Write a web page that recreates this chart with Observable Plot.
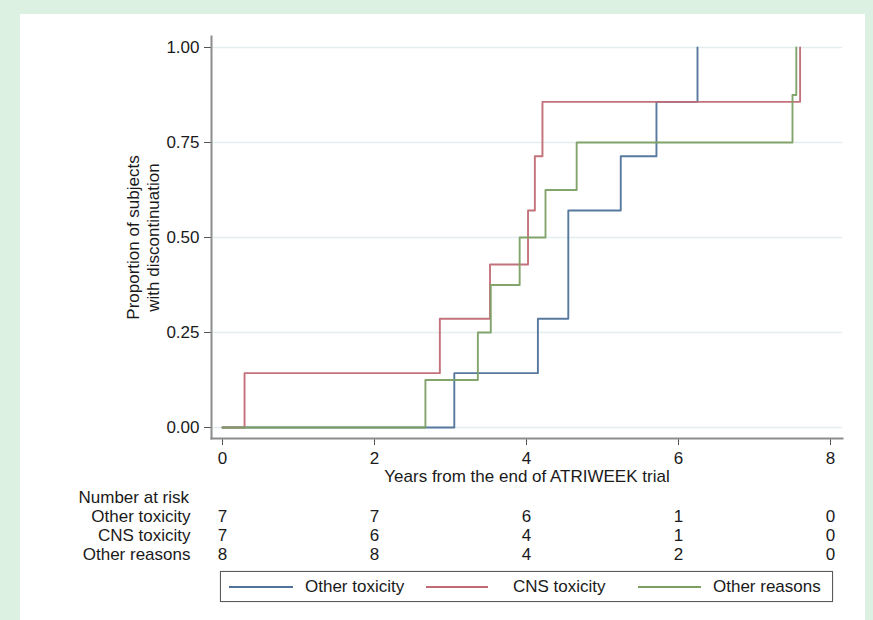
<!DOCTYPE html>
<html>
<head>
<meta charset="utf-8">
<script src="https://cdn.jsdelivr.net/npm/d3@7"></script>
<script src="https://cdn.jsdelivr.net/npm/@observablehq/plot@0.6"></script>
<style>
  html, body { margin: 0; padding: 0; background: #dcf1e2; width: 873px; height: 620px; overflow: hidden;
    font-family: "Liberation Sans", Arial, sans-serif; }
  #panel { position: absolute; left: 20px; top: 14px; width: 845px; height: 606px; background: #fff; }
  #chart { position: absolute; left: 0; top: 0; }
  #legend { position: absolute; left: 200px; top: 557px; width: 613px; height: 31px; box-sizing: border-box;
    border: 1.5px solid #5a5a5a; box-shadow: 0 0 1px #aaa; font-size: 17px; color: #1a1a1a; }
  .sw { position: absolute; top: 14px; height: 0; border-top: 2px solid; }
  .lt { position: absolute; top: 5px; line-height: 19px; white-space: nowrap; }
</style>
</head>
<body>
<div id="panel">
  <div id="chart"></div>
  <div id="legend"></div>
</div>
<script>
// ---- data ----
const seriesNames = ["Other toxicity", "CNS toxicity", "Other reasons"];
const seriesColors = ["#4f7299", "#c06a74", "#7c9f63"];

const otherToxTime = [0, 3.05, 4.15, 4.55, 5.24, 5.71, 6.25];
const otherToxProp = [0, 0.143, 0.286, 0.571, 0.714, 0.857, 1.0];

const cnsTime = [0, 0.29, 2.86, 3.52, 4.02, 4.11, 4.21, 7.6];
const cnsProp = [0, 0.143, 0.286, 0.429, 0.571, 0.714, 0.857, 1.0];

const otherReasonsTime = [0, 2.67, 3.36, 3.53, 3.91, 4.25, 4.66, 7.5, 7.55];
const otherReasonsProp = [0, 0.125, 0.25, 0.375, 0.5, 0.625, 0.75, 0.875, 1.0];

const xTicks = [0, 2, 4, 6, 8];
const yTicks = [0, 0.25, 0.5, 0.75, 1];

const riskOtherTox = [7, 7, 6, 1, 0];
const riskCNS = [7, 6, 4, 1, 0];
const riskOtherReasons = [8, 8, 4, 2, 0];

const xTitle = "Years from the end of ATRIWEEK trial";
const yTitle = "Proportion of subjects\nwith discontinuation";
const riskTitle = "Number at risk";

// ---- build tables ----
function steps(name, ts, ps) { return ts.map((t, i) => ({series: name, t, p: ps[i]})); }
const curves = [
  ...steps(seriesNames[0], otherToxTime, otherToxProp),
  ...steps(seriesNames[1], cnsTime, cnsProp),
  ...steps(seriesNames[2], otherReasonsTime, otherReasonsProp)
];
const riskRows = [riskOtherTox, riskCNS, riskOtherReasons];
const rowDy = [83, 102, 121];
const riskMarks = riskRows.flatMap((row, r) => [
  Plot.text(row.map((n, i) => ({t: xTicks[i], n})), {x: "t", text: "n", frameAnchor: "bottom", dy: rowDy[r], fill: "#1a1a1a"}),
  Plot.text([seriesNames[r]], {frameAnchor: "bottom-left", dx: -21, dy: rowDy[r], textAnchor: "end", fill: "#1a1a1a"})
]);

const chart = Plot.plot({
  width: 845,
  height: 555,
  marginLeft: 191,
  marginRight: 23,
  marginTop: 22,
  marginBottom: 131,
  style: {fontSize: "17px", fontFamily: "'Liberation Sans', Arial, sans-serif", color: "#1a1a1a", background: "transparent", overflow: "visible"},
  x: {domain: [0, 8], insetLeft: 11, insetRight: 12},
  y: {domain: [0, 1], insetTop: 11, insetBottom: 11},
  color: {domain: seriesNames, range: seriesColors},
  marks: [
    Plot.gridY(yTicks, {stroke: "#e4eeee", strokeOpacity: 1, strokeWidth: 1.5}),
    Plot.axisY({ticks: yTicks, tickSize: 7, tickPadding: 5, tickFormat: d3.format(".2f"), label: null, stroke: "#555"}),
    Plot.axisX({ticks: xTicks, tickSize: 7, tickPadding: 6, label: null, stroke: "#555"}),
    Plot.frame({anchor: "left", stroke: "#8c8c8c", strokeWidth: 2, strokeOpacity: 1}),
    Plot.frame({anchor: "bottom", stroke: "#8c8c8c", strokeWidth: 2, strokeOpacity: 1}),
    Plot.line(curves, {x: "t", y: "p", z: "series", stroke: "series", curve: "step-after", strokeWidth: 1.9, strokeOpacity: 0.95}),
    Plot.text([yTitle], {frameAnchor: "left", dx: -69, rotate: -90, textAnchor: "middle", lineHeight: 1.15, fill: "#1a1a1a"}),
    Plot.text([xTitle], {frameAnchor: "bottom", dy: 43, fill: "#1a1a1a"}),
    Plot.text([riskTitle], {frameAnchor: "bottom-left", dx: -133, dy: 64, textAnchor: "start", fill: "#1a1a1a"}),
    ...riskMarks
  ]
});
document.getElementById("chart").appendChild(chart);

// ---- legend ----
const legend = document.getElementById("legend");
const swLeft = [8, 205, 417];
const swWidth = [64, 62, 63];
const txtLeft = [84, 292, 492];
seriesNames.forEach((name, i) => {
  const sw = document.createElement("div");
  sw.className = "sw";
  sw.style.left = swLeft[i] + "px";
  sw.style.width = swWidth[i] + "px";
  sw.style.borderTopColor = seriesColors[i];
  legend.appendChild(sw);
  const t = document.createElement("div");
  t.className = "lt";
  t.style.left = txtLeft[i] + "px";
  t.textContent = name;
  legend.appendChild(t);
});
</script>
</body>
</html>
